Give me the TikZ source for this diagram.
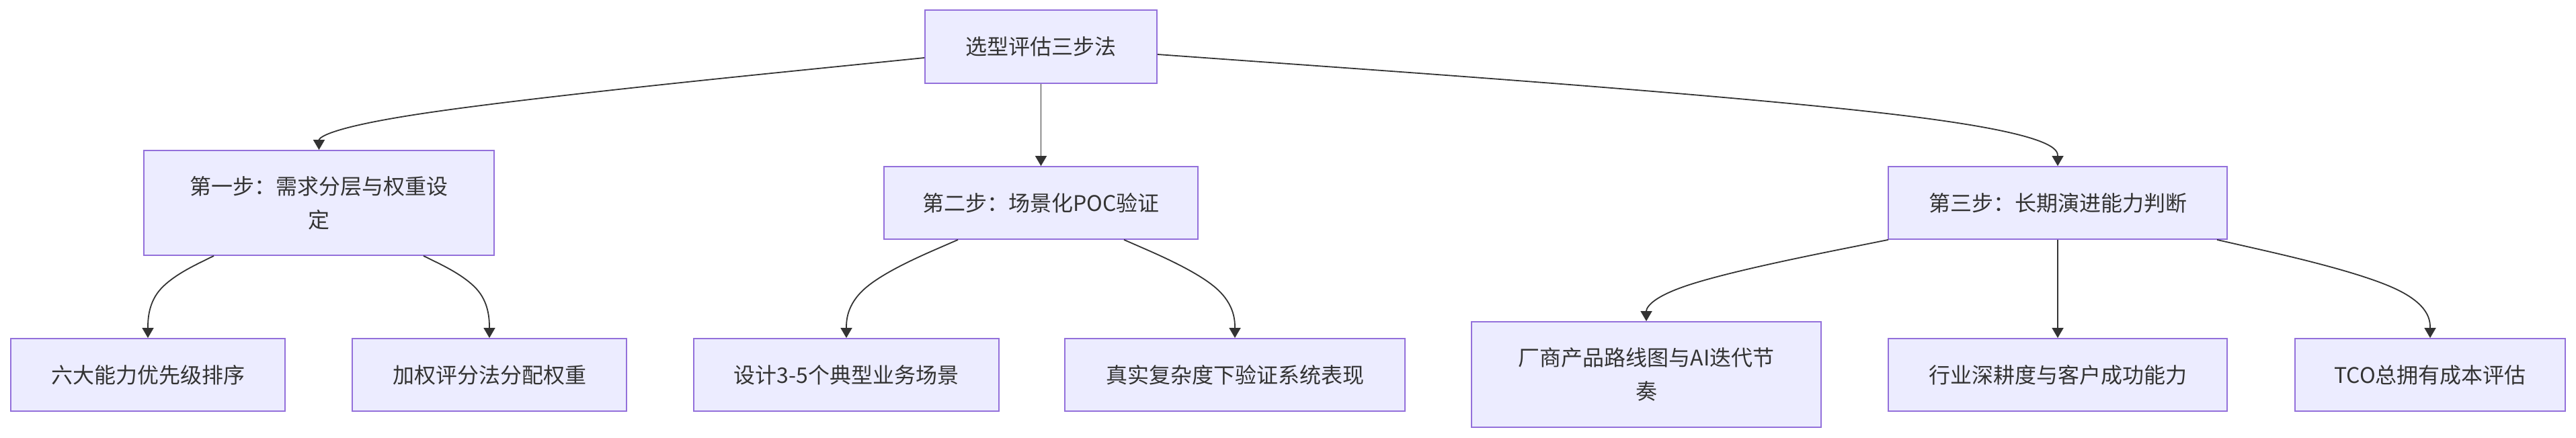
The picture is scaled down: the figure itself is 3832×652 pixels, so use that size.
\documentclass[tikz,border=0pt]{standalone}
\usepackage{fontspec}
\setmainfont{Noto Sans CJK SC}
\usetikzlibrary{calc,arrows.meta}
\definecolor{boxfill}{HTML}{ECECFF}
\definecolor{boxline}{HTML}{9370DB}
\definecolor{ink}{HTML}{333333}
\newcommand{\bedge}[3]{%
  \draw[edge] (#1) -- ($(#1)!0.16667!(#2)$)
    .. controls ($(#1)!0.33333!(#2)$) and ($(#1)!0.66667!(#2)$) .. ($0.16667*(#1)+0.66667*(#2)+0.16667*(#3)$)
    .. controls ($(#2)!0.33333!(#3)$) and ($(#2)!0.66667!(#3)$) .. (#3);}
\begin{document}
\begin{tikzpicture}[x=1pt,y=-1pt,
  box/.style={draw=boxline, fill=boxfill, line width=1.8pt, text=ink,
    font=\fontsize{32}{50}\selectfont, inner sep=0pt, align=center},
  edge/.style={draw=ink, line width=1.8pt, -{Triangle[length=15pt,width=17pt]}}]
\useasboundingbox (0,0) rectangle (3832,652);
% nodes
\node[box, minimum width=345pt, minimum height=109pt] (root) at (1548.5,69.5) {选型评估三步法};
\node[box, minimum width=521pt, minimum height=156pt] (s1) at (474.5,302) {第一步：需求分层与权重设\\定};
\node[box, minimum width=467pt, minimum height=108pt] (s2) at (1548.5,302) {第二步：场景化POC验证};
\node[box, minimum width=504pt, minimum height=108pt] (s3) at (3061,302) {第三步：长期演进能力判断};
\node[box, minimum width=408pt, minimum height=108pt] (l1) at (220,558) {六大能力优先级排序};
\node[box, minimum width=408pt, minimum height=108pt] (l2) at (728,558) {加权评分法分配权重};
\node[box, minimum width=454pt, minimum height=108pt] (l3) at (1259,558) {设计3-5个典型业务场景};
\node[box, minimum width=506pt, minimum height=108pt] (l4) at (1837,558) {真实复杂度下验证系统表现};
\node[box, minimum width=520pt, minimum height=157pt] (l5) at (2449,557.5) {厂商产品路线图与AI迭代节\\奏};
\node[box, minimum width=504pt, minimum height=108pt] (l6) at (3061,558) {行业深耕度与客户成功能力};
\node[box, minimum width=402pt, minimum height=108pt] (l7) at (3615,558) {TCO总拥有成本评估};
% edge anchor points
\coordinate (ra) at ($(root.west)+(0,16.5)$);
\coordinate (rb) at ($(root.east)+(0,11.5)$);
\coordinate (ma) at ($(s1.north)+(0,-46)$);
\coordinate (mb) at ($(s3.north)+(0,-70)$);
\coordinate (s1a) at ($(s1.south)+(-156.5,0)$);
\coordinate (s1b) at ($(s1.south)+(155.5,0)$);
\coordinate (s2a) at ($(s2.south)+(-123.5,0)$);
\coordinate (s2b) at ($(s2.south)+(123.5,0)$);
\coordinate (s3a) at ($(s3.south)+(-252,0)$);
\coordinate (s3b) at ($(s3.south)+(237,0)$);
\coordinate (m1) at ($(l1.north)+(0,-74)$);
\coordinate (m2) at ($(l2.north)+(0,-74)$);
\coordinate (m3) at ($(l3.north)+(0,-74)$);
\coordinate (m4) at ($(l4.north)+(0,-74)$);
\coordinate (m5) at ($(l5.north)+(0,-49)$);
\coordinate (m7) at ($(l7.north)+(0,-74)$);
% edges
\bedge{ra}{ma}{s1.north}
\draw[edge] (root.south) -- (s2.north);
\bedge{rb}{mb}{s3.north}
\bedge{s1a}{m1}{l1.north}
\bedge{s1b}{m2}{l2.north}
\bedge{s2a}{m3}{l3.north}
\bedge{s2b}{m4}{l4.north}
\bedge{s3a}{m5}{l5.north}
\draw[edge] (s3.south) -- (l6.north);
\bedge{s3b}{m7}{l7.north}
\end{tikzpicture}
\end{document}
